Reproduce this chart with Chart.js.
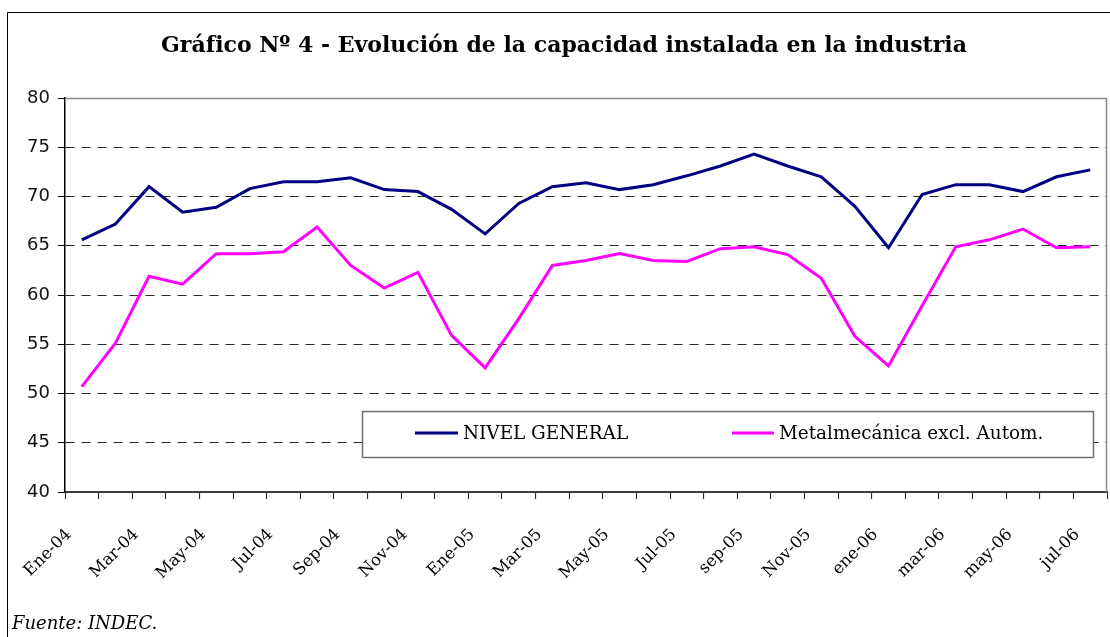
<!DOCTYPE html>
<html lang="es">
<head>
<meta charset="utf-8">
<title>Gráfico Nº 4 - Evolución de la capacidad instalada en la industria</title>
<script src="https://cdn.jsdelivr.net/npm/chart.js@4.4.1/dist/chart.umd.min.js"></script>
<style>
  html, body { margin: 0; padding: 0; background: #fff; }
  #wrap { width: 1110px; height: 637px; position: relative; }
</style>
</head>
<body>
<div id="wrap"><canvas id="capChart" width="1110" height="637"></canvas></div>
<script>
'use strict';

// ── Data ─────────────────────────────────────────────────────────
const categories = [
    'Ene-04', 'Feb-04', 'Mar-04', 'Abr-04', 'May-04', 'Jun-04', 'Jul-04', 'Ago-04',
    'Sep-04', 'Oct-04', 'Nov-04', 'Dic-04', 'Ene-05', 'Feb-05', 'Mar-05', 'Abr-05',
    'May-05', 'Jun-05', 'Jul-05', 'Ago-05', 'sep-05', 'oct-05', 'Nov-05', 'dic-05',
    'ene-06', 'feb-06', 'mar-06', 'abr-06', 'may-06', 'jun-06', 'jul-06'
];

const nivelGeneral = [
    65.6, 67.2, 71.0, 68.4, 68.9, 70.8, 71.5, 71.5, 71.9, 70.7, 70.5, 68.7,
    66.2, 69.3, 71.0, 71.4, 70.7, 71.2, 72.1, 73.1, 74.3, 73.1, 72.0, 69.0,
    64.8, 70.2, 71.2, 71.2, 70.5, 72.0, 72.7
];

const metalmecanica = [
    50.7, 55.1, 61.9, 61.1, 64.2, 64.2, 64.4, 66.9, 63.0, 60.7, 62.3, 55.9,
    52.6, 57.6, 63.0, 63.5, 64.2, 63.5, 63.4, 64.7, 64.9, 64.1, 61.7, 55.8,
    52.8, 58.9, 64.9, 65.6, 66.7, 64.8, 64.9
];

const yTicks = [40, 45, 50, 55, 60, 65, 70, 75, 80];

const seriesNames = ['NIVEL GENERAL', 'Metalmecánica excl. Autom.'];
const titleText   = 'Gráfico Nº 4 - Evolución de la capacidad instalada en la industria';
const sourceText  = 'Fuente: INDEC.';

const SERIF = '"DejaVu Serif", "Liberation Serif", serif';
const SANS  = '"DejaVu Sans", Verdana, sans-serif';

// ── Frame, title, legend box, footnote ───────────────────────────
const decorations = {
    id: 'decorations',
    beforeDraw(chart) {
        const { ctx } = chart;
        ctx.save();
        ctx.fillStyle = '#fff';
        ctx.fillRect(0, 0, chart.width, chart.height);
        // outer frame (only left and top are inside the picture)
        ctx.strokeStyle = '#000';
        ctx.lineWidth = 1;
        ctx.beginPath();
        ctx.moveTo(7.5, chart.height + 2);
        ctx.lineTo(7.5, 12.5);
        ctx.lineTo(chart.width + 2, 12.5);
        ctx.stroke();
        // title
        ctx.fillStyle = '#000';
        ctx.font = `bold 22px ${SERIF}`;
        ctx.textAlign = 'center';
        ctx.textBaseline = 'alphabetic';
        ctx.fillText(titleText, 564, 52);
        // source
        ctx.font = `italic 18px ${SERIF}`;
        ctx.textAlign = 'left';
        ctx.fillText(sourceText, 12, 629);
        ctx.restore();
    },
    afterDraw(chart) {
        const { ctx, chartArea: a } = chart;
        ctx.save();
        // plot area border: top and right
        ctx.strokeStyle = '#8a8a8a';
        ctx.lineWidth = 1.5;
        ctx.beginPath();
        ctx.moveTo(a.left, a.top + 0.5);
        ctx.lineTo(a.right - 0.5, a.top + 0.5);
        ctx.lineTo(a.right - 0.5, a.bottom);
        ctx.stroke();

        // legend box
        const box = { x: 362, y: 411, w: 731, h: 46 };
        ctx.fillStyle = '#fff';
        ctx.fillRect(box.x, box.y, box.w, box.h);
        ctx.strokeStyle = '#6e6e6e';
        ctx.lineWidth = 1.5;
        ctx.strokeRect(box.x + 0.5, box.y + 0.5, box.w, box.h);

        const items = [
            { x1: 415, x2: 458, tx: 463 },
            { x1: 732, x2: 774, tx: 779 }
        ];
        ctx.font = `18.4px ${SERIF}`;
        ctx.textBaseline = 'middle';
        ctx.textAlign = 'left';
        chart.data.datasets.forEach((ds, i) => {
            const it = items[i];
            ctx.strokeStyle = ds.borderColor;
            ctx.lineWidth = 3;
            ctx.beginPath();
            ctx.moveTo(it.x1, 433);
            ctx.lineTo(it.x2, 433);
            ctx.stroke();
            ctx.fillStyle = '#000';
            ctx.fillText(ds.label, it.tx, 434);
        });
        ctx.restore();
    }
};

// ── Chart ────────────────────────────────────────────────────────
const capChart = new Chart(document.getElementById('capChart'), {
    type: 'line',
    data: {
        labels: categories,
        datasets: [
            {
                label: seriesNames[0],
                data: nivelGeneral,
                borderColor: '#000080',
                borderWidth: 3,
                pointRadius: 0,
                tension: 0,
                fill: false,
            },
            {
                label: seriesNames[1],
                data: metalmecanica,
                borderColor: '#ff00ff',
                borderWidth: 3,
                pointRadius: 0,
                tension: 0,
                fill: false,
            }
        ]
    },
    options: {
        responsive: false,
        animation: false,
        devicePixelRatio: 1,
        layout: { padding: { left: 0, right: 3, top: 98, bottom: 0 } },
        plugins: {
            legend: { display: false },
            title: { display: false },
            tooltip: { enabled: false }
        },
        scales: {
            x: {
                type: 'category',
                offset: true,
                afterFit: s => {
                    s.height = 145;
                    s.paddingLeft = 0;
                    s.paddingRight = 0;
                },
                grid: {
                    offset: true,
                    drawOnChartArea: false,
                    drawTicks: true,
                    tickLength: 7,
                    tickColor: '#333',
                    tickWidth: 1.2,
                },
                border: { display: true, color: '#3c3c3c', width: 2 },
                ticks: {
                    autoSkip: false,
                    maxRotation: 45,
                    minRotation: 45,
                    padding: 26,
                    labelOffset: -13,
                    color: '#000',
                    font: { family: SERIF, size: 16.5 },
                    callback: (v, i) => (i % 2 === 0 ? categories[i] : ''),
                }
            },
            y: {
                min: 40,
                max: 80,
                afterFit: s => { s.width = 65; },
                afterBuildTicks: s => { s.ticks = yTicks.map(v => ({ value: v })); },
                grid: {
                    drawTicks: true,
                    tickLength: 7,
                    tickColor: '#000',
                    tickBorderDash: [],
                    lineWidth: 1,
                    color: c => (c.tick && (c.tick.value === 40 || c.tick.value === 80)) ? 'rgba(0,0,0,0)' : '#2a2a2a',
                },
                border: { display: true, color: '#000', width: 1.5, dash: [9, 7] },
                ticks: {
                    padding: 8,
                    color: '#111',
                    font: { family: SANS, size: 18 },
                }
            }
        }
    },
    plugins: [decorations]
});

window.capChart = capChart;
</script>
</body>
</html>
